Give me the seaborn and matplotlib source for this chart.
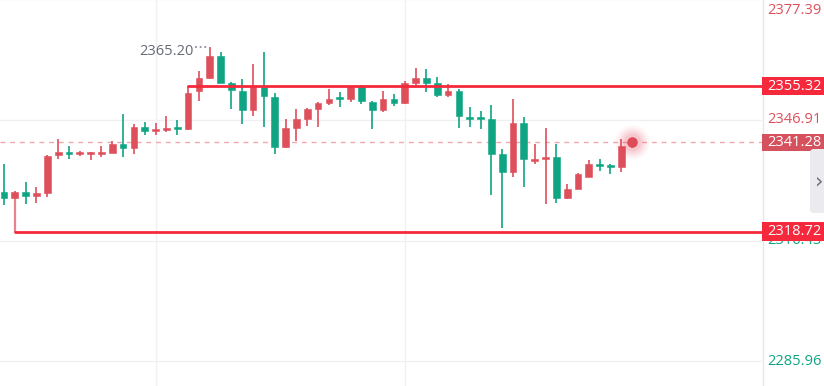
import numpy as np
import pandas as pd
import matplotlib
matplotlib.use("Agg")
import matplotlib.pyplot as plt
import seaborn as sns
from matplotlib.patches import Rectangle, FancyBboxPatch

# ---------------- data ----------------
opens = [2328.6, 2327.1, 2328.6, 2327.6, 2328.4, 2338.0, 2338.8, 2338.3, 2338.3, 2338.3,
         2338.5, 2340.8, 2339.8, 2345.1, 2344.1, 2344.3, 2344.8, 2344.6, 2354.2, 2357.4,
         2363.0, 2356.2, 2354.2, 2349.4, 2355.2, 2352.7, 2340.0, 2344.8, 2347.1, 2349.6,
         2351.2, 2352.4, 2352.2, 2355.2, 2351.4, 2349.4, 2352.2, 2351.2, 2356.2, 2357.4,
         2356.2, 2353.2, 2354.2, 2347.4, 2347.4, 2347.2, 2338.2, 2333.7, 2346.1, 2336.5,
         2337.0, 2337.5, 2327.1, 2329.4, 2332.5, 2335.8, 2335.5, 2335.0, 2340.7]
highs = [2335.7, 2328.9, 2331.2, 2329.9, 2338.0, 2342.1, 2340.3, 2339.0, 2338.8, 2340.3,
         2341.6, 2348.4, 2345.9, 2346.4, 2346.1, 2347.9, 2346.9, 2355.32, 2359.2, 2365.20,
         2364.0, 2356.4, 2357.2, 2361.0, 2364.0, 2353.7, 2347.1, 2349.6, 2349.9, 2351.4,
         2354.7, 2353.9, 2355.2, 2355.7, 2351.6, 2354.2, 2353.4, 2356.7, 2360.0, 2359.7,
         2357.7, 2355.9, 2354.7, 2350.2, 2349.2, 2350.7, 2339.5, 2352.2, 2347.6, 2340.8,
         2344.8, 2340.8, 2330.7, 2333.5, 2336.8, 2337.0, 2335.8, 2342.1, 2341.6]
lows = [2325.4, 2318.72, 2325.6, 2325.9, 2327.4, 2337.0, 2337.0, 2337.7, 2336.7, 2337.5,
        2338.5, 2337.5, 2338.3, 2343.1, 2343.1, 2343.8, 2343.1, 2344.3, 2351.6, 2357.2,
        2356.2, 2349.6, 2345.8, 2347.8, 2345.1, 2338.2, 2339.8, 2341.5, 2345.3, 2345.1,
        2350.7, 2350.1, 2351.4, 2350.9, 2344.6, 2348.9, 2350.4, 2350.9, 2355.7, 2353.9,
        2352.7, 2352.7, 2344.8, 2345.1, 2344.6, 2327.9, 2319.5, 2332.5, 2329.9, 2335.8,
        2325.6, 2325.9, 2326.9, 2329.4, 2332.5, 2334.0, 2333.2, 2333.7, 2339.8]
closes = [2327.1, 2328.6, 2327.6, 2328.4, 2337.7, 2338.8, 2338.3, 2338.8, 2338.5, 2338.5,
          2340.8, 2339.8, 2345.1, 2344.1, 2344.3, 2344.8, 2344.6, 2353.7, 2357.4, 2363.0,
          2356.2, 2354.4, 2349.4, 2355.2, 2352.9, 2340.0, 2344.8, 2347.1, 2349.6, 2351.2,
          2352.2, 2352.2, 2355.2, 2351.6, 2349.4, 2352.2, 2351.2, 2356.2, 2357.4, 2356.2,
          2353.2, 2354.2, 2347.9, 2347.2, 2347.2, 2338.2, 2333.7, 2346.1, 2337.0, 2337.0,
          2337.5, 2327.1, 2329.4, 2333.2, 2335.8, 2335.3, 2335.0, 2340.3, 2341.28]

axis_labels = ["2377.39", "2346.91", "2316.43", "2285.96"]
axis_values = [2377.39, 2346.91, 2316.43, 2285.96]
resistance = 2355.32
support = 2318.72
last_price = 2341.28
peak_value = 2365.20
resistance_start = 17
support_start = 1
time_grid = [14, 37]

# ---------------- style ----------------
sns.set_theme(style="white")
plt.rcParams["font.family"] = ["Open Sans", "DejaVu Sans"]

RED = "#de4f5c"
GREEN = "#0fa583"
LINE_RED = "#f5283c"
GRID = "#f0f0f3"

df = pd.DataFrame({"i": np.arange(len(opens)), "open": opens, "high": highs,
                   "low": lows, "close": closes})
df["up"] = df["close"] >= df["open"]
df["color"] = np.where(df["up"], RED, GREEN)
df["bottom"] = df[["open", "close"]].min(axis=1)
df["height"] = (df["close"] - df["open"]).abs().clip(lower=0.45)

W, H = 824, 386
fig = plt.figure(figsize=(W / 100, H / 100), dpi=100)
fig.patch.set_facecolor("white")
ax = fig.add_axes([0, 0, 762 / W, 1])
ax.set_xlim(-0.37, 69.99)
ylo, yhi = 2279.73, 2377.15
ax.set_ylim(ylo, yhi)
ax.axis("off")
ppx = (yhi - ylo) / H  # price per pixel

# grid
for v in axis_values:
    ax.axhline(v, color=GRID, lw=1.0, zorder=0)
for g in time_grid:
    ax.axvline(g, color=GRID, lw=1.0, zorder=0)

# candles
ax.vlines(df["i"], df["low"], df["high"], colors=df["color"], lw=1.2, zorder=2)
ax.bar(df["i"], df["height"], bottom=df["bottom"], width=0.62,
       color=df["color"], edgecolor=df["color"], linewidth=0.4, zorder=3)

# last price dashed line
ax.axhline(last_price, color="#f2a7ae", lw=1.0, ls=(0, (3.5, 3.5)), zorder=1)

# resistance / support lines
n_end = 70
sns.lineplot(x=[resistance_start, n_end], y=[resistance, resistance], ax=ax,
             color=LINE_RED, lw=2.0, zorder=4, legend=False)
sns.lineplot(x=[support_start, n_end], y=[support, support], ax=ax,
             color=LINE_RED, lw=2.0, zorder=4, legend=False)
ax.vlines([support_start], support, df["bottom"][support_start], colors="#e8828c",
          lw=1.6, zorder=2)

# live dot with halo
li = len(opens) - 1
for s, a in [(600, 0.05), (420, 0.07), (280, 0.09), (170, 0.12)]:
    ax.scatter([li], [last_price], s=s, color="#e8495a", alpha=a, lw=0, zorder=5)
ax.scatter([li], [last_price], s=58, color="#e04b5a", lw=0, zorder=6)

# peak annotation
ax.annotate(f"{peak_value:.2f}", xy=(19, peak_value), xytext=(-11.5, -2.8),
            textcoords="offset points", ha="right", va="center",
            fontsize=10.5, color="#666a73", zorder=6)
ax.plot([17.6, 18.75], [peak_value, peak_value], ls=(0, (1, 1.6)), color="#8a8e97",
        lw=1.3, zorder=6)

# ---------------- right price scale ----------------
ax2 = fig.add_axes([762 / W, 0, 62 / W, 1])
ax2.set_xlim(0, 62)
ax2.set_ylim(ylo, yhi)
ax2.axis("off")
ax2.axvline(0.5, color="#e8e8ec", lw=1.0, zorder=0)

for lab, v in zip(axis_labels, axis_values):
    col = RED if v > last_price else GREEN
    yv = min(v, yhi - 11 * ppx)
    ax2.text(5, yv, lab, va="center", ha="left", fontsize=10.5, color=col, zorder=1)

for v, fc, h in [(resistance, LINE_RED, 18), (support, LINE_RED, 19),
                 (last_price, "#d6515e", 17)]:
    ax2.add_patch(Rectangle((0, v - h / 2 * ppx), 62, h * ppx, facecolor=fc,
                            edgecolor="none", zorder=3))
    ax2.text(5, v, f"{v:.2f}", va="center", ha="left", fontsize=10.5,
             color="white", zorder=4)

# collapse tab
ax3 = fig.add_axes([0, 0, 1, 1])
ax3.set_xlim(0, W)
ax3.set_ylim(H, 0)
ax3.axis("off")
ax3.add_patch(FancyBboxPatch((810, 149), 20, 64, boxstyle="round,pad=0,rounding_size=4",
                             facecolor="#ebebef", edgecolor="none", zorder=2))
ax3.text(819, 181, "›", ha="center", va="center", fontsize=15, color="#6b6f78",
         family="DejaVu Sans")

fig.savefig("out.png", dpi=100, facecolor="white")
